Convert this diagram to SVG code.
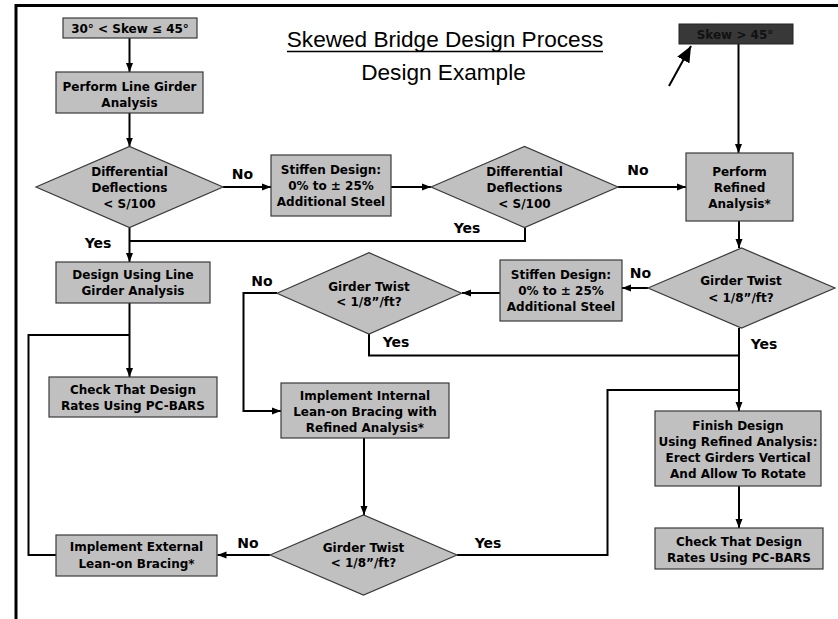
<svg xmlns="http://www.w3.org/2000/svg" width="838" height="619" viewBox="0 0 838 619">
<style>
.box{fill:#c0c0c0;stroke:#3a3a3a;stroke-width:1.2}
.t{font-family:"DejaVu Sans",Verdana,sans-serif;font-weight:bold;font-size:12px;fill:#000;text-anchor:middle}
.lbl{font-family:"DejaVu Sans",Verdana,sans-serif;font-weight:bold;font-size:14px;fill:#000;text-anchor:middle}
.c{fill:none;stroke:#000;stroke-width:2}
.title{font-family:"Liberation Sans",Arial,sans-serif;font-size:22.6px;fill:#000;text-anchor:middle}
</style>
<defs>
<marker id="ah" markerUnits="userSpaceOnUse" markerWidth="9" markerHeight="8" refX="9" refY="4" orient="auto">
<path d="M0,0.5 L9,4 L0,7.5 z" fill="#000"/>
</marker>
<marker id="big" markerUnits="userSpaceOnUse" markerWidth="16" markerHeight="14" refX="16" refY="7" orient="auto">
<path d="M0,0 L16,7 L0,14 z" fill="#000"/>
</marker>
</defs>
<rect width="838" height="619" fill="#fff"/>
<g id="frame">
<path d="M16,619 V5.5 H838" fill="none" stroke="#000" stroke-width="3"/>
</g>
<g id="title">
<text class="title" x="445" y="47">Skewed Bridge Design Process</text>
<line x1="287" y1="51.5" x2="603" y2="51.5" stroke="#000" stroke-width="1.5"/>
<text class="title" x="443.5" y="80">Design Example</text>
</g>
<g id="connectors">
<path class="c" d="M129.5,38 V72" marker-end="url(#ah)"/>
<path class="c" d="M129.5,113 V146.5" marker-end="url(#ah)"/>
<path class="c" d="M223,187 H271" marker-end="url(#ah)"/>
<path class="c" d="M391,187 H431" marker-end="url(#ah)"/>
<path class="c" d="M618,187 H686" marker-end="url(#ah)"/>
<path class="c" d="M738.5,44 V153" stroke-width="1.5" marker-end="url(#ah)"/>
<path class="c" d="M739,221 V248" marker-end="url(#ah)"/>
<path class="c" d="M648,288 H622" marker-end="url(#ah)"/>
<path class="c" d="M500,293 H462" marker-end="url(#ah)"/>
<path class="c" d="M277,293 H243.5 V411 H281" marker-end="url(#ah)"/>
<path class="c" d="M369,334 V355.5 H739"/>
<path class="c" d="M739,328 V411" marker-end="url(#ah)"/>
<path class="c" d="M457,555 H607.5 V390 H739"/>
<path class="c" d="M739,486 V528" marker-end="url(#ah)"/>
<path class="c" d="M364,438 V515" marker-end="url(#ah)"/>
<path class="c" d="M270,555 H217.5" marker-end="url(#ah)"/>
<path class="c" d="M56,555 H28.5 V335 H129.5"/>
<path class="c" d="M129.5,303 V377" marker-end="url(#ah)"/>
<path class="c" d="M129.5,227.5 V262" marker-end="url(#ah)"/>
<path class="c" d="M525,227.5 V241 H129.5"/>
<path class="c" d="M669,86 L691,46" stroke-width="3.5" marker-end="url(#big)"/>
</g>
<g id="start1">
<rect class="box" x="63" y="18" width="134" height="20"/>
<text class="t" x="130" y="33">30° &lt; Skew ≤ 45°</text>
</g>
<g id="lineGirder">
<rect class="box" x="56" y="72" width="147" height="41"/>
<text class="t" x="129.5" y="90.5">Perform Line Girder</text>
<text class="t" x="129.5" y="106.5">Analysis</text>
</g>
<g id="diff1">
<polygon class="box" points="36,187 129.5,146.5 223,187 129.5,227.5"/>
<text class="t" x="129.5" y="176">Differential</text>
<text class="t" x="129.5" y="192">Deflections</text>
<text class="t" x="129.5" y="208">&lt; S/100</text>
</g>
<g id="stiffen1">
<rect class="box" x="271" y="155" width="120" height="61"/>
<text class="t" x="331" y="173.5">Stiffen Design:</text>
<text class="t" x="331" y="190">0% to ± 25%</text>
<text class="t" x="331" y="206">Additional Steel</text>
</g>
<g id="diff2">
<polygon class="box" points="431,187 524.5,146.5 618,187 524.5,227.5"/>
<text class="t" x="524.5" y="176">Differential</text>
<text class="t" x="524.5" y="192">Deflections</text>
<text class="t" x="524.5" y="208">&lt; S/100</text>
</g>
<g id="start2">
<rect x="679" y="24" width="114" height="20" fill="#383838" stroke="#222" stroke-width="1"/>
<text class="t" x="735" y="39" fill="#111" style="fill:#111">Skew &gt; 45°</text>
</g>
<g id="refined">
<rect class="box" x="686" y="153" width="107" height="68"/>
<text class="t" x="739.5" y="176">Perform</text>
<text class="t" x="739.5" y="192">Refined</text>
<text class="t" x="739.5" y="208">Analysis*</text>
</g>
<g id="twist1">
<polygon class="box" points="648,288 741.5,248 835,288 741.5,328"/>
<text class="t" x="741" y="285">Girder Twist</text>
<text class="t" x="741" y="301.5">&lt; 1/8”/ft?</text>
</g>
<g id="stiffen2">
<rect class="box" x="500" y="260" width="122" height="61"/>
<text class="t" x="561" y="278.5">Stiffen Design:</text>
<text class="t" x="561" y="295">0% to ± 25%</text>
<text class="t" x="561" y="311">Additional Steel</text>
</g>
<g id="twist2">
<polygon class="box" points="277,293.3 369,252.7 461.5,293.3 369,334"/>
<text class="t" x="369" y="290.5">Girder Twist</text>
<text class="t" x="369" y="306">&lt; 1/8”/ft?</text>
</g>
<g id="designLine">
<rect class="box" x="56" y="262" width="154" height="41"/>
<text class="t" x="133" y="278.5">Design Using Line</text>
<text class="t" x="133" y="295">Girder Analysis</text>
</g>
<g id="check1">
<rect class="box" x="49" y="377" width="168" height="40"/>
<text class="t" x="133" y="393.5">Check That Design</text>
<text class="t" x="133" y="410">Rates Using PC-BARS</text>
</g>
<g id="internal">
<rect class="box" x="281" y="383" width="168" height="55"/>
<text class="t" x="365" y="399.5">Implement Internal</text>
<text class="t" x="365" y="416">Lean-on Bracing with</text>
<text class="t" x="365" y="432">Refined Analysis*</text>
</g>
<g id="finish">
<rect class="box" x="655" y="411" width="166" height="75"/>
<text class="t" x="738" y="429.5">Finish Design</text>
<text class="t" x="738" y="446">Using Refined Analysis:</text>
<text class="t" x="738" y="462">Erect Girders Vertical</text>
<text class="t" x="738" y="478">And Allow To Rotate</text>
</g>
<g id="check2">
<rect class="box" x="655" y="528" width="168" height="41"/>
<text class="t" x="739" y="546">Check That Design</text>
<text class="t" x="739" y="561.5">Rates Using PC-BARS</text>
</g>
<g id="twist3">
<polygon class="box" points="270,555 363.5,515 457,555 363.5,595"/>
<text class="t" x="363.5" y="552">Girder Twist</text>
<text class="t" x="363.5" y="567">&lt; 1/8”/ft?</text>
</g>
<g id="external">
<rect class="box" x="56" y="535" width="161" height="41"/>
<text class="t" x="136.5" y="551">Implement External</text>
<text class="t" x="136.5" y="568">Lean-on Bracing*</text>
</g>
<g id="labels">
<text class="lbl" x="242.5" y="179">No</text>
<text class="lbl" x="98" y="248">Yes</text>
<text class="lbl" x="467" y="232.5">Yes</text>
<text class="lbl" x="638" y="175">No</text>
<text class="lbl" x="640.5" y="277.5">No</text>
<text class="lbl" x="262" y="286">No</text>
<text class="lbl" x="396" y="347">Yes</text>
<text class="lbl" x="764" y="349">Yes</text>
<text class="lbl" x="488" y="547.5">Yes</text>
<text class="lbl" x="248" y="547.5">No</text>
</g>
</svg>
